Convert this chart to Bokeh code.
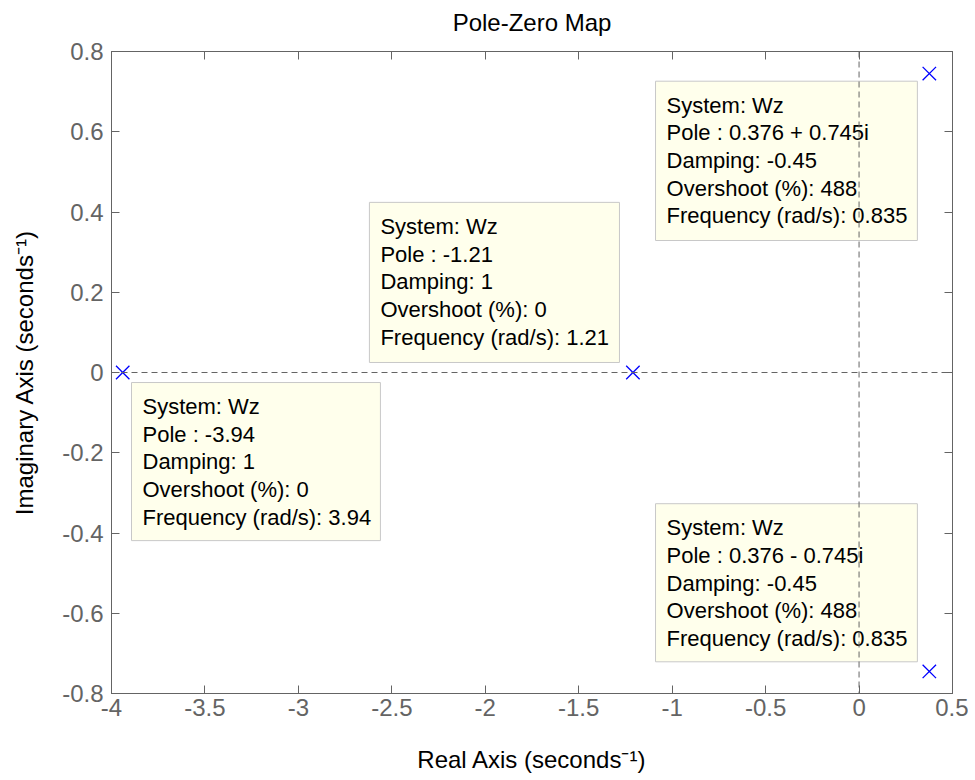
from bokeh.plotting import figure
from bokeh.models import LinearAxis, FixedTicker, Span, Range1d, ColumnDataSource
from bokeh.core.properties import value
from bokeh.embed import file_html
from bokeh.resources import INLINE

# ---------------- data ----------------
pole_re = [-3.94, -1.21, 0.376, 0.376]
pole_im = [0.0, 0.0, 0.745, -0.745]

info_lines = [
    ["System: Wz", "Pole : -3.94", "Damping: 1", "Overshoot (%): 0", "Frequency (rad/s): 3.94"],
    ["System: Wz", "Pole : -1.21", "Damping: 1", "Overshoot (%): 0", "Frequency (rad/s): 1.21"],
    ["System: Wz", "Pole : 0.376 + 0.745i", "Damping: -0.45", "Overshoot (%): 488", "Frequency (rad/s): 0.835"],
    ["System: Wz", "Pole : 0.376 - 0.745i", "Damping: -0.45", "Overshoot (%): 488", "Frequency (rad/s): 0.835"],
]

x_tick_labels = ["-4", "-3.5", "-3", "-2.5", "-2", "-1.5", "-1", "-0.5", "0", "0.5"]
y_tick_labels = ["-0.8", "-0.6", "-0.4", "-0.2", "0", "0.2", "0.4", "0.6", "0.8"]

title_text = "Pole-Zero Map"
x_label = "Real Axis (seconds\u207b\u00b9)"
y_label = "Imaginary Axis (seconds\u207b\u00b9)"

# ---------------- layout (data-tip box placement) ----------------
box_left = [-3.893, -2.620, -1.089, -1.089]
box_right = [-2.561, -1.282, 0.312, 0.312]
box_top = [-0.025, 0.424, 0.726, -0.327]
box_bottom = [-0.419, 0.025, 0.329, -0.721]

FONT = "Liberation Sans"
GRAY = "#646464"

x_ticks = [float(s) for s in x_tick_labels]
y_ticks = [float(s) for s in y_tick_labels]

p = figure(
    frame_width=841, frame_height=642,
    min_border_left=111, min_border_right=16, min_border_top=51, min_border_bottom=79,
    x_range=Range1d(-4, 0.5), y_range=Range1d(-0.8, 0.8),
    output_backend="svg", toolbar_location=None,
)

p.grid.visible = False
p.outline_line_color = GRAY
p.outline_line_width = 1
p.background_fill_color = "white"
p.border_fill_color = "white"

def style_axis(ax, ticks, labels, show_labels):
    ax.ticker = FixedTicker(ticks=ticks)
    if show_labels:
        ax.major_label_overrides = {t: s for t, s in zip(ticks, labels)}
    else:
        ax.major_label_overrides = {t: "" for t in ticks}
        ax.major_label_standoff = 0
    ax.minor_tick_line_color = None
    ax.major_tick_in = 8
    ax.major_tick_out = 0
    ax.major_tick_line_color = GRAY
    ax.axis_line_color = GRAY
    ax.major_label_text_font = FONT
    ax.major_label_text_color = GRAY
    ax.major_label_text_font_size = "24px"
    ax.axis_label_text_font = FONT
    ax.axis_label_text_font_size = "24px"
    ax.axis_label_text_font_style = "normal"
    ax.axis_label_text_color = "black"

xa = p.xaxis[0]
ya = p.yaxis[0]
style_axis(xa, x_ticks, x_tick_labels, True)
style_axis(ya, y_ticks, y_tick_labels, True)
xa.major_label_standoff = 5
ya.major_label_standoff = 8
xa.axis_label = x_label
ya.axis_label = y_label
xa.axis_label_standoff = 27
ya.axis_label_standoff = 21

# top axis carries the chart title as its label
top_ax = LinearAxis(axis_label=title_text)
right_ax = LinearAxis()
style_axis(top_ax, x_ticks, x_tick_labels, False)
style_axis(right_ax, y_ticks, y_tick_labels, False)
top_ax.axis_label_standoff = 16
p.add_layout(top_ax, "above")
p.add_layout(right_ax, "right")

# data-tip boxes
p.quad(left=box_left, right=box_right, top=box_top, bottom=box_bottom,
       fill_color="#FFFFEC", line_color="#C8C8C8", line_width=1)

tx, ty, tt, toff = [], [], [], []
for i, lines in enumerate(info_lines):
    for j, s in enumerate(lines):
        tx.append(box_left[i])
        ty.append(box_top[i])
        tt.append(s)
        toff.append(24 + j * 27.7)
src = ColumnDataSource(dict(x=tx, y=ty, text=tt, yo=toff))
p.text(x="x", y="y", text="text", y_offset="yo", x_offset=11, source=src,
       text_font=value(FONT), text_font_size="22px", text_color="black",
       text_baseline="alphabetic", text_align="left")

# zero lines
p.add_layout(Span(location=0, dimension="height", line_color=GRAY, line_dash="6 4", line_width=1))
p.add_layout(Span(location=0, dimension="width", line_color=GRAY, line_dash="6 4", line_width=1))

# poles
p.scatter(pole_re, pole_im, marker="x", size=19, line_color="#0000FF", line_width=1.3)

open("out.html", "w").write(file_html(p, INLINE))
